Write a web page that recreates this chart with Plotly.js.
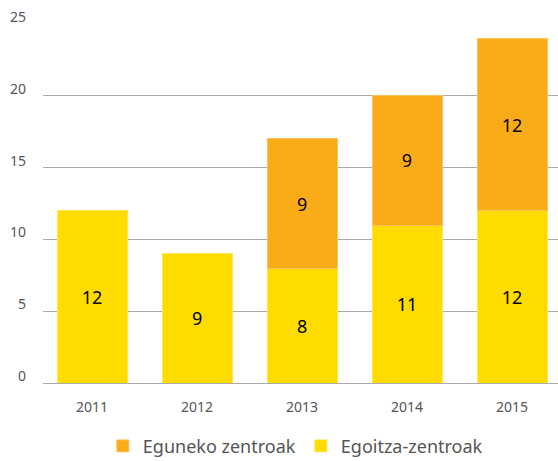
<!DOCTYPE html>
<html>
<head>
<meta charset="utf-8">
<script src="https://cdn.plot.ly/plotly-3.0.1.min.js"></script>
<style>html,body{margin:0;padding:0;background:#fff;}#chart{width:558px;height:461px;}</style>
</head>
<body>
<div id="chart"></div>
<script>
const years = ["2011", "2012", "2013", "2014", "2015"];
const egoitza = [12, 9, 8, 11, 12];
const eguneko = [null, null, 9, 9, 12];
const seriesNames = ["Egoitza-zentroak", "Eguneko zentroak"];
const yTicks = [0, 5, 10, 15, 20, 25];

const labelFont = {family: "Noto Sans, sans-serif", size: 18, color: "#000"};

const traces = [
  {
    type: "bar", name: seriesNames[0], x: years, y: egoitza,
    marker: {color: "#FFDC00", line: {color: "#FFE74D", width: 1}},
    text: egoitza.map(v => v == null ? "" : String(v)),
    textposition: "inside", insidetextanchor: "middle",
    textfont: labelFont, hoverinfo: "skip", width: 0.667, legendrank: 2
  },
  {
    type: "bar", name: seriesNames[1], x: years, y: eguneko,
    marker: {color: "#FAAC18", line: {color: "#FBC25A", width: 1}},
    text: eguneko.map(v => v == null ? "" : String(v)),
    textposition: "inside", insidetextanchor: "middle",
    textfont: labelFont, hoverinfo: "skip", width: 0.667, legendrank: 1
  }
];

const layout = {
  width: 558, height: 461,
  margin: {l: 43, r: 0, t: 24, b: 78, autoexpand: false},
  barmode: "stack",
  paper_bgcolor: "#fff", plot_bgcolor: "#fff",
  font: {family: "Noto Sans, sans-serif", color: "#555"},
  xaxis: {
    type: "category", range: [-0.467, 4.438],
    showgrid: false, zeroline: false, showline: false, automargin: false,
    tickfont: {size: 14, color: "#555"}, ticks: "", ticklabelstandoff: 14
  },
  yaxis: {
    range: [0, 25], tickvals: yTicks, ticktext: yTicks.map(String),
    showgrid: true, gridcolor: "#aaaaaa", gridwidth: 1, automargin: false,
    zeroline: true, zerolinecolor: "#aaaaaa", zerolinewidth: 1,
    showline: false, ticks: "",
    tickfont: {size: 14, color: "#555"}, ticklabelstandoff: 16, ticklabelshift: -7
  },
  showlegend: true,
  legend: {
    orientation: "h", x: 0.49, xanchor: "center", y: -0.176, yanchor: "middle",
    font: {size: 18, color: "#555"}, traceorder: "normal", itemclick: false
  }
};

Plotly.newPlot("chart", traces, layout, {displayModeBar: false, staticPlot: true});
</script>
</body>
</html>
